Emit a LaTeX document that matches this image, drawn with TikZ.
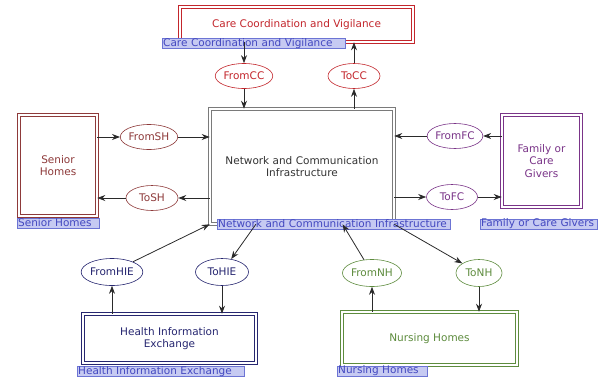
\documentclass[tikz,border=0pt]{standalone}
\usepackage{fontspec}
\setmainfont{DejaVu Sans}
\usetikzlibrary{shapes.geometric,arrows.meta,calc}
\definecolor{ccred}{HTML}{C3262C}
\definecolor{shred}{HTML}{8E3A3A}
\definecolor{fcpurple}{HTML}{7A3488}
\definecolor{hienavy}{HTML}{262670}
\definecolor{nhgreen}{HTML}{5E8C3E}
\definecolor{ncigray}{HTML}{7A7A7A}
\definecolor{tagfill}{HTML}{C6CAF2}
\definecolor{tagline}{HTML}{6C74D4}
\definecolor{tagtext}{HTML}{4348C0}
\definecolor{arrgray}{HTML}{2A2A2A}
\tikzset{
  unit/.style={draw=#1, text=#1, double=white, double distance=2.8pt, line width=0.6pt,
    fill=white, align=center, inner sep=0pt, font=\fontsize{10.5}{12.5}\selectfont},
  flow/.style={ellipse, draw=#1, text=#1, line width=0.6pt, fill=white, inner sep=0pt,
    minimum height=25pt, font=\fontsize{10.5}{12}\selectfont},
  tag/.style={draw=tagline, fill=tagfill, text=tagtext, anchor=west, align=left,
    inner xsep=1pt, inner ysep=0pt, minimum height=9.5pt, font=\fontsize{10.5}{9.5}\selectfont},
  arr/.style={-{Stealth[length=8pt,width=6pt]}, line width=0.8pt, draw=arrgray},
}
\begin{document}
\begin{tikzpicture}[x=1pt, y=-1pt]
  \useasboundingbox (0,0) rectangle (605,378);
  % units
  \node[unit=ccred, minimum width=233pt, minimum height=35pt] (cc) at (296.5,24.5) {Care Coordination and Vigilance};
  \node[unit=ncigray, text=black!80, minimum width=184pt, minimum height=115pt] (nci) at (302,166.5) {Network and Communication\\Infrastructure};
  \node[unit=shred, minimum width=78pt, minimum height=101pt] (sh) at (58,165.5) {Senior\\Homes};
  \node[unit=fcpurple, minimum width=79pt, minimum height=92pt] (fc) at (541.5,161) {Family or\\Care\\Givers};
  \node[unit=hienavy, minimum width=173pt, minimum height=49pt] (hie) at (169.5,338.5) {Health Information\\Exchange};
  \node[unit=nhgreen, minimum width=175pt, minimum height=53pt] (nh) at (429.5,338.5) {Nursing Homes};
  % tags
  \node[tag, text width=181pt] (cctag) at (162,43.5) {Care Coordination and Vigilance};
  \node[tag, text width=231pt] (ncitag) at (217,224) {Network and Communication Infrastructure};
  \node[tag, text width=80pt] (shtag) at (17,223) {Senior Homes};
  \node[tag, text width=115pt] (fctag) at (480,224) {Family or Care Givers};
  \node[tag, text width=165pt] (hietag) at (77,371.5) {Health Information Exchange};
  \node[tag, text width=88pt] (nhtag) at (337,371) {Nursing Homes};
  % flows
  \node[flow=ccred, minimum width=51pt] (fromcc) at (244,76) {FromCC};
  \node[flow=ccred, minimum width=52pt] (tocc) at (354,76) {ToCC};
  \node[flow=shred, minimum width=53pt] (fromsh) at (149,137) {FromSH};
  \node[flow=shred, minimum width=52pt] (tosh) at (152,198) {ToSH};
  \node[flow=fcpurple, minimum width=46pt] (fromfc) at (455,136) {FromFC};
  \node[flow=fcpurple, minimum width=51pt] (tofc) at (452,197) {ToFC};
  \node[flow=hienavy, minimum width=54pt, minimum height=27pt] (fromhie) at (112,272) {FromHIE};
  \node[flow=hienavy, minimum width=53pt, minimum height=27pt] (tohie) at (222,272) {ToHIE};
  \node[flow=nhgreen, minimum width=54pt, minimum height=27pt] (fromnh) at (372,273) {FromNH};
  \node[flow=nhgreen, minimum width=46pt, minimum height=27pt] (tonh) at (479,273) {ToNH};
  % connectors
  \draw[arr] (fromcc |- cc.south) -- (fromcc);
  \draw[arr] (fromcc) -- (fromcc |- nci.north);
  \draw[arr] (tocc |- nci.north) -- (tocc);
  \draw[arr] (tocc) -- (tocc |- cc.south);
  \draw[arr] (fromsh -| sh.east) -- (fromsh);
  \draw[arr] (fromsh) -- (fromsh -| nci.west);
  \draw[arr] (tosh -| nci.west) -- (tosh);
  \draw[arr] (tosh) -- (tosh -| sh.east);
  \draw[arr] (fromfc -| fc.west) -- (fromfc);
  \draw[arr] (fromfc) -- (fromfc -| nci.east);
  \draw[arr] (tofc -| nci.east) -- (tofc);
  \draw[arr] (tofc) -- (tofc -| fc.west);
  \draw[arr] (fromhie |- hie.north) -- (fromhie);
  \draw[arr] (fromhie) -- (nci.south west);
  \draw[arr] ($(nci.south west)!0.25!(nci.south east)$) -- (tohie);
  \draw[arr] (tohie) -- (tohie |- hie.north);
  \draw[arr] (fromnh |- nh.north) -- (fromnh);
  \draw[arr] (fromnh) -- ($(nci.south west)!0.72!(nci.south east)$);
  \draw[arr] (nci.south east) -- (tonh);
  \draw[arr] (tonh) -- (tonh |- nh.north);
\end{tikzpicture}
\end{document}
